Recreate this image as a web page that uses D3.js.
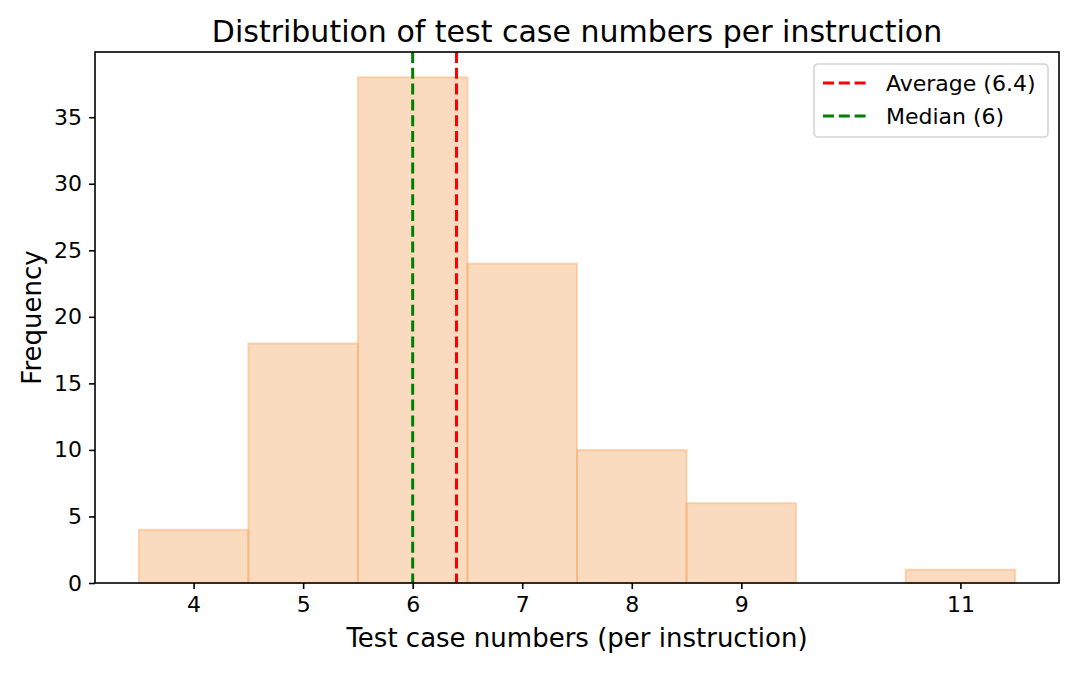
<!DOCTYPE html>
<html>
<head>
<meta charset="utf-8">
<script src="https://cdn.jsdelivr.net/npm/d3@7"></script>
<style>
  body { margin: 0; background: #fff; }
  text { font-family: "DejaVu Sans", sans-serif; fill: #000; }
</style>
</head>
<body>
<div id="chart"></div>
<script>
// histogram data: test cases per instruction -> frequency
var caseCounts = [4, 5, 6, 7, 8, 9, 11];
var frequencies = [4, 18, 38, 24, 10, 6, 1];
var xTicks = [4, 5, 6, 7, 8, 9, 11];
var yTicks = [0, 5, 10, 15, 20, 25, 30, 35];
var refLines = [
  {label: 'Average (6.4)', value: 6.4, color: 'red'},
  {label: 'Median (6)', value: 6, color: 'green'}
];

var width = 1080, height = 675;
var margin = {left: 95, right: 21, top: 52, bottom: 92};

var svg = d3.select('#chart').append('svg')
  .attr('width', width).attr('height', height);

var x = d3.scaleLinear().domain([3.1, 11.9]).range([margin.left, width - margin.right]);
var y = d3.scaleLinear().domain([0, 39.9]).range([height - margin.bottom, margin.top]);

var bars = caseCounts.map(function(c, i){ return {c: c, f: frequencies[i]}; });

svg.append('g').selectAll('rect').data(bars).enter().append('rect')
  .attr('x', function(d){ return x(d.c - 0.5); })
  .attr('y', function(d){ return y(d.f); })
  .attr('width', function(d){ return x(d.c + 0.5) - x(d.c - 0.5); })
  .attr('height', function(d){ return y(0) - y(d.f); })
  .attr('fill', 'sandybrown').attr('fill-opacity', 0.4)
  .attr('stroke', 'sandybrown').attr('stroke-opacity', 0.4)
  .attr('stroke-width', 2);

svg.append('g').selectAll('line').data(refLines).enter().append('line')
  .attr('x1', function(d){ return x(d.value); }).attr('x2', function(d){ return x(d.value); })
  .attr('y1', margin.top).attr('y2', height - margin.bottom)
  .attr('stroke', function(d){ return d.color; })
  .attr('stroke-width', 3).attr('stroke-dasharray', '11,4.8');

// axes
var xAxis = svg.append('g').attr('transform', 'translate(0,' + (height - margin.bottom) + ')')
  .call(d3.axisBottom(x).tickValues(xTicks).tickSize(6).tickPadding(7).tickFormat(d3.format('d')));
var yAxis = svg.append('g').attr('transform', 'translate(' + margin.left + ',0)')
  .call(d3.axisLeft(y).tickValues(yTicks).tickSize(6).tickPadding(7).tickFormat(d3.format('d')));
[xAxis, yAxis].forEach(function(a){
  a.select('.domain').remove();
  a.selectAll('.tick line').attr('stroke', '#000').attr('stroke-width', 1.6);
  a.selectAll('.tick text').attr('font-size', 22).attr('font-family', '"DejaVu Sans", sans-serif').attr('fill', '#000');
});

// frame
svg.append('rect')
  .attr('x', margin.left).attr('y', margin.top)
  .attr('width', width - margin.left - margin.right)
  .attr('height', height - margin.top - margin.bottom)
  .attr('fill', 'none').attr('stroke', '#000').attr('stroke-width', 1.6);

svg.append('text').attr('x', (margin.left + width - margin.right) / 2).attr('y', 42)
  .attr('text-anchor', 'middle').attr('font-size', 30)
  .text('Distribution of test case numbers per instruction');

svg.append('text').attr('x', (margin.left + width - margin.right) / 2).attr('y', 647)
  .attr('text-anchor', 'middle').attr('font-size', 26)
  .text('Test case numbers (per instruction)');

svg.append('text').attr('transform', 'translate(41,' + ((margin.top + height - margin.bottom) / 2) + ') rotate(-90)')
  .attr('text-anchor', 'middle').attr('font-size', 26)
  .text('Frequency');

// legend
var legend = svg.append('g').attr('transform', 'translate(814,64)');
legend.append('rect').attr('width', 234).attr('height', 73).attr('rx', 4)
  .attr('fill', '#fff').attr('fill-opacity', 0.8)
  .attr('stroke', '#d5d5d5').attr('stroke-width', 1.6);
var items = legend.selectAll('g.item').data(refLines).enter().append('g')
  .attr('transform', function(d, i){ return 'translate(0,' + (19 + i * 33) + ')'; });
items.append('line').attr('x1', 9).attr('x2', 54)
  .attr('stroke', function(d){ return d.color; })
  .attr('stroke-width', 3).attr('stroke-dasharray', '11,4.8');
items.append('text').attr('x', 72).attr('y', 8).attr('font-size', 22)
  .text(function(d){ return d.label; });
</script>
</body>
</html>
